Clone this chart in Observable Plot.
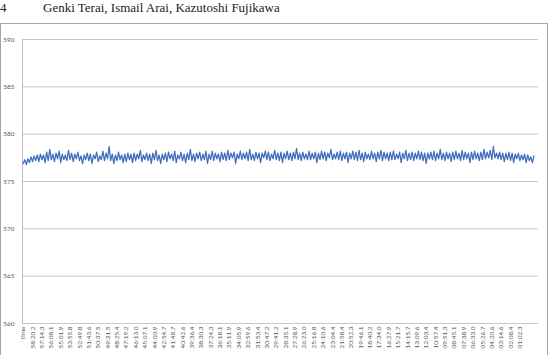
<!DOCTYPE html>
<html><head><meta charset="utf-8">
<script src="https://cdn.jsdelivr.net/npm/d3@7"></script>
<script src="https://cdn.jsdelivr.net/npm/@observablehq/plot@0.6"></script>
<style>
body{margin:0;background:#fff;width:552px;height:355px;overflow:hidden;position:relative;}
.hd{position:absolute;top:0;font-family:"Liberation Serif",serif;font-size:13px;color:#222;white-space:nowrap;line-height:16px;}
#box{position:absolute;left:0;top:23px;width:548px;height:345px;box-sizing:border-box;border:1px solid #a6a6a6;}
#chart{position:absolute;left:0;top:23px;}
</style></head><body>
<div class="hd" style="left:0px">4</div>
<div class="hd" style="left:43px">Genki Terai, Ismail Arai, Kazutoshi Fujikawa</div>
<div id="box"></div>
<div id="chart"></div>
<script>
const timeLabels = ["time","58:20.2","57:14.3","56:08.1","55:01.9","53:55.8","52:49.8","51:43.6","50:37.5","49:31.5","48:25.4","47:19.2","46:13.0","45:07.1","44:00.9","42:54.7","41:48.7","40:42.6","39:36.4","38:30.3","37:24.3","36:18.1","35:11.9","34:05.9","32:59.6","31:53.4","30:47.2","29:41.2","28:35.1","27:28.9","26:23.0","25:16.8","24:10.6","23:04.4","21:58.4","20:52.3","19:46.1","18:40.2","17:34.0","16:27.9","15:21.7","14:15.7","13:09.6","12:03.4","10:57.4","09:51.3","08:45.1","07:38.9","06:33.0","05:26.7","04:20.6","03:14.6","02:08.4","01:02.3"];
const values = [
576.9,577.3,576.8,577.4,577.0,577.6,577.1,577.7,577.2,577.8,
577.1,577.9,577.3,577.8,577.0,578.1,577.2,578.4,577.3,577.9,
577.1,578.0,577.4,578.2,577.0,577.9,577.3,577.8,577.2,578.3,
577.3,578.0,577.1,577.9,577.4,578.1,577.2,577.7,576.9,577.8,
577.3,578.0,577.2,577.9,576.9,577.8,577.4,578.1,577.1,577.7,
577.3,578.2,577.2,578.0,577.4,578.7,577.2,577.9,576.9,577.8,
577.2,578.1,577.3,577.8,577.0,577.9,577.1,578.0,577.3,577.9,
577.0,578.0,577.2,577.9,577.4,578.3,577.1,577.8,577.3,578.0,
577.2,577.9,576.9,578.0,577.3,578.3,577.2,577.8,576.9,577.9,
577.3,578.0,577.1,578.1,577.4,577.9,577.2,578.2,577.0,577.8,
577.4,578.1,577.2,577.9,577.0,578.0,577.3,578.4,577.2,577.9,
577.1,578.0,577.4,578.1,577.2,577.9,577.3,578.2,576.9,577.9,
577.3,578.2,577.2,578.0,577.4,577.9,577.1,578.1,577.3,578.0,
577.2,578.3,577.3,578.0,577.5,578.1,576.9,577.9,577.4,578.2,
577.3,578.0,577.4,578.1,577.2,578.4,577.3,577.9,577.2,578.1,
577.4,578.0,577.0,578.0,577.5,578.2,577.3,578.1,577.2,577.9,
577.4,578.3,577.3,578.0,577.2,578.1,577.0,578.0,577.4,578.2,
577.3,578.0,577.2,578.1,577.4,578.5,577.3,578.0,577.2,578.1,
577.4,577.9,577.3,578.2,577.3,578.0,577.4,578.1,577.0,578.0,
577.3,578.2,577.4,578.1,577.2,578.0,577.5,578.4,577.3,577.9,
577.4,578.1,577.3,578.2,577.2,578.0,577.4,578.1,577.0,578.0,
577.4,578.2,577.3,578.1,577.2,578.3,577.3,578.0,577.1,578.1,
577.4,577.9,577.3,578.2,577.4,578.0,577.1,578.1,577.4,578.3,
577.2,578.1,577.4,578.0,577.2,578.1,577.3,578.2,577.3,577.9,
577.4,578.1,577.0,578.0,577.4,578.3,577.2,578.0,577.3,578.1,
577.2,578.0,577.4,578.2,577.3,578.1,577.2,578.0,576.9,578.0,
577.4,578.1,577.3,578.2,577.2,578.0,577.4,578.4,577.3,578.0,
577.2,578.1,577.4,578.0,577.1,578.1,577.3,578.2,577.4,578.0,
577.2,578.3,577.3,578.1,577.4,578.0,577.0,578.1,577.3,578.2,
577.4,578.0,577.2,578.1,577.3,578.4,577.4,578.1,577.5,578.3,
577.3,578.7,577.5,578.0,577.4,578.1,577.3,578.0,577.1,578.0,
577.3,578.1,577.2,578.0,577.0,577.9,577.4,578.0,577.2,577.8,
577.3,577.9,577.0,577.8,577.2,577.6,577.0,577.7
];
const yTicks = [560,565,570,575,580,585,590];
const labelStep = 6;

const data = values.map((v, i) => ({i, v}));
const xTicks = timeLabels.map((_, k) => k * labelStep);
const xDomain = [-0.45, 329.9];

const plot = Plot.plot({
  width: 552, height: 332,
  marginLeft: 22, marginRight: 14, marginTop: 16, marginBottom: 32,
  x: {domain: xDomain},
  y: {domain: [560, 590]},
  style: {fontFamily: "Lato, 'Open Sans', sans-serif", fontSize: "6.5px", color: "#595959", background: "transparent"},
  marks: [
    Plot.ruleY(yTicks, {stroke: "#c6c6c6", strokeWidth: 1}),
    Plot.frame({anchor: "left", stroke: "#bcbcbc"}),
    Plot.axisY({ticks: yTicks, tickSize: 0, tickPadding: 8, label: null}),
    Plot.axisX({ticks: xTicks, tickFormat: d => timeLabels[d / labelStep], tickRotate: -90, tickSize: 0, tickPadding: 3, label: null}),
    Plot.line(data, {x: "i", y: "v", stroke: "#3f6dbd", strokeWidth: 1.25})
  ]
});
document.getElementById("chart").appendChild(plot);
</script>
</body></html>
